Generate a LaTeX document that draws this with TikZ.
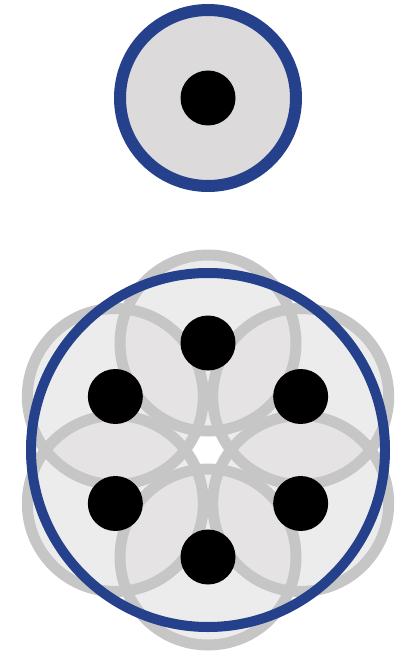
\documentclass[tikz,border=0pt]{standalone}
\definecolor{cableblue}{RGB}{38,65,140}
\definecolor{sheath}{RGB}{220,218,219}
\definecolor{strand}{RGB}{198,198,198}
\begin{document}
\begin{tikzpicture}[x=1pt, y=-1pt, line join=round, line cap=round]
	\useasboundingbox (0,0) rectangle (406,655);
	\path
	(208,98) coordinate (single)
	(208,450) coordinate (bundle);
	% one core
	\draw[cableblue, line width=12, fill=sheath] (single) circle (88);
	\fill (single) circle (27.5);
	% six cores round the middle
	\foreach \a [count=\i] in {90,150,...,420}
		\path (bundle) ++(\a:107) coordinate (core\i);
	\foreach \i in {1,...,6}
		\fill[sheath, fill opacity=0.5] (core\i) circle (88);
	\foreach \i in {1,...,6}
		\draw[strand, line width=11] (core\i) circle (88);
	\draw[cableblue, line width=10] (bundle) circle (177);
	\foreach \i in {1,...,6}
		\fill (core\i) circle (27.5);
\end{tikzpicture}
\end{document}
